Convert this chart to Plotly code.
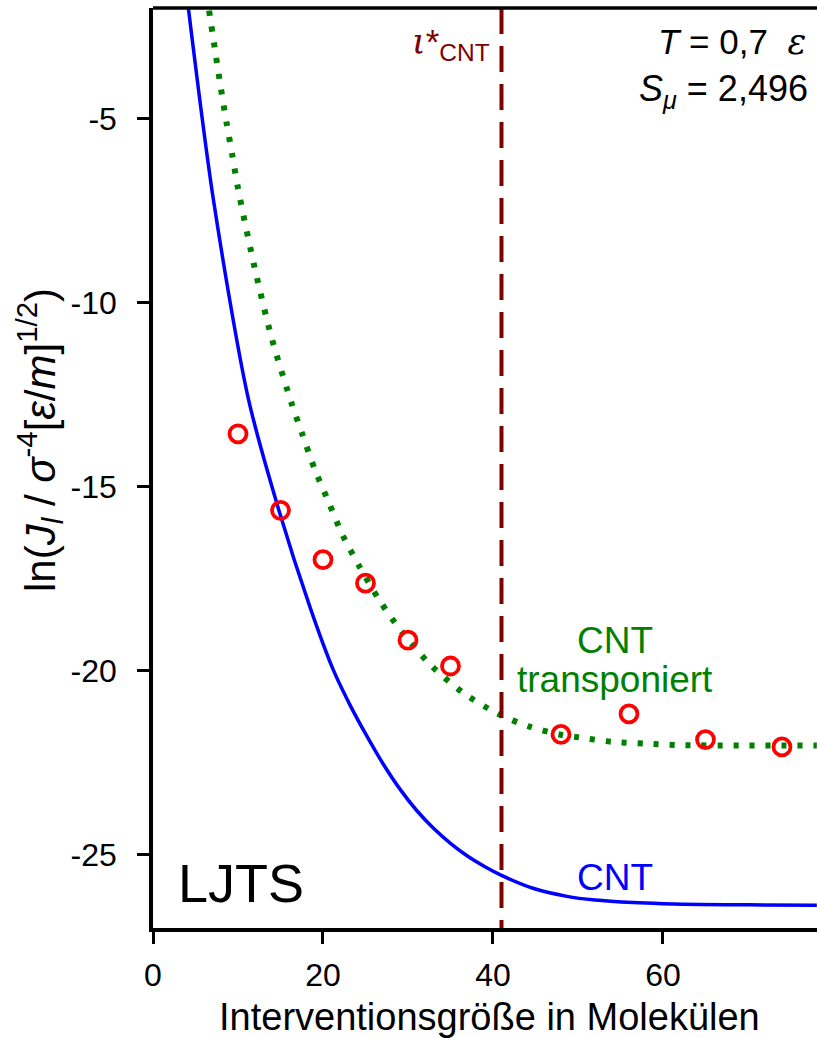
import plotly.graph_objects as go

# ---- data ----
cnt_x = [4.16, 7.1, 11.2, 14.8, 18.5, 21.2, 23.2, 25.1, 27.1, 29.1, 31.0, 33.0, 35.0, 36.9, 39.0, 41.0, 44.7,
         48.7, 52.0, 56.5, 60.0, 64.4, 70.0, 78.1]
cnt_y = [-2.0, -7.2, -12.6, -15.64, -18.3, -19.98, -20.95, -21.76, -22.55, -23.24, -23.8, -24.29, -24.7, -25.03,
         -25.33, -25.57, -25.92, -26.14, -26.24, -26.31, -26.34, -26.36, -26.37, -26.38]

trans_x = [6.6, 7.4, 8.0, 8.67, 9.33, 10.0, 12.0, 14.0, 16.3, 17.6, 19.0, 20.6, 22.3, 24.3, 26.6, 29.3,
           32.7, 36.5, 40.5, 44.3, 48.0, 50.1, 54.0, 57.9, 61.8, 69.4, 78.1]
trans_y = [-2.07, -3.3, -4.2, -5.14, -6.0, -6.9, -9.1, -11.0, -12.74, -13.6, -14.52, -15.39, -16.32, -17.18,
           -18.08, -18.96, -19.86, -20.61, -21.17, -21.53, -21.75, -21.82, -21.94, -21.99, -22.03, -22.04, -22.04]

sim_x = [10, 15, 20, 25, 30, 35, 48, 56, 65, 74]
sim_y = [-13.57, -15.65, -16.99, -17.63, -19.18, -19.88, -21.74, -21.18, -21.88, -22.08]

t_star = 41.0

x_ticks = [0, 20, 40, 60]
y_ticks = [-25, -20, -15, -10, -5]
x_range = [0, 78.12]
y_range = [-27, -2]

FONT = "Liberation Sans, Arial, sans-serif"
SERIF = "font-family:'DejaVu Serif'"

# plot area in pixels
L, R, T, B = 153, 817, 8, 928
W, H = 817, 1038


def px(xp):
    return (xp - L) / (R - L)


def py(yp):
    return (B - yp) / (B - T)


fig = go.Figure()

fig.add_trace(go.Scatter(x=cnt_x, y=cnt_y, mode="lines",
                         line=dict(color="#0000FF", width=3.5, shape="spline", smoothing=0.8),
                         showlegend=False, hoverinfo="skip"))
fig.add_trace(go.Scatter(x=trans_x, y=trans_y, mode="lines",
                         line=dict(color="#008000", width=6, dash="5px,11px", shape="spline", smoothing=0.8),
                         showlegend=False, hoverinfo="skip"))
fig.add_trace(go.Scatter(x=sim_x, y=sim_y, mode="markers",
                         marker=dict(symbol="circle-open", size=17, color="#FF0000",
                                     line=dict(width=3.8, color="#FF0000")),
                         showlegend=False, hoverinfo="skip"))
fig.add_trace(go.Scatter(x=[t_star, t_star], y=[y_range[1], y_range[0]], mode="lines",
                         line=dict(color="#800000", width=4, dash="26px,12px"),
                         showlegend=False, hoverinfo="skip"))

annotations = [
    dict(text="LJTS", x=px(176), y=py(883), xanchor="left", yanchor="middle", font=dict(size=54, color="black")),
    dict(text="CNT", x=px(615), y=py(877), xanchor="center", yanchor="middle", font=dict(size=37, color="#0000FF")),
    dict(text="CNT", x=px(615), y=py(640), xanchor="center", yanchor="middle", font=dict(size=37, color="#008000")),
    dict(text="transponiert", x=px(615), y=py(679), xanchor="center", yanchor="middle",
         font=dict(size=37, color="#008000")),
    dict(text=f"<i>T</i> = 0,7  <span style=\"{SERIF}\"><i>ε</i></span>", x=px(808), y=py(42),
         xanchor="right", yanchor="middle", font=dict(size=35, color="black")),
    dict(text="<i>S</i><sub><i>μ</i></sub> = 2,496", x=px(810), y=py(91), xanchor="right", yanchor="middle",
         font=dict(size=36, color="black")),
    dict(text=f"<span style=\"{SERIF}\"><i>ι</i></span>*<sub>CNT</sub>", x=px(410), y=py(44),
         xanchor="left", yanchor="middle", font=dict(size=35, color="#800000")),
    dict(text="Interventionsgröße in Molekülen", x=px(489), y=py(1017), xanchor="center", yanchor="middle",
         font=dict(size=38, color="black")),
    dict(text="ln(<i>J</i><sub><i>l</i></sub> / <i>σ</i><sup>-4</sup>[<i>ε</i>/<i>m</i>]<sup>1/2</sup>)",
         x=px(40), y=py(440), xanchor="center", yanchor="middle", textangle=-90,
         font=dict(size=42, color="black")),
]
for a in annotations:
    a.update(xref="paper", yref="paper", showarrow=False)

fig.update_layout(
    width=W, height=H,
    margin=dict(l=L, r=W - R, t=T, b=H - B, pad=0),
    paper_bgcolor="white", plot_bgcolor="white",
    font=dict(family=FONT, size=32, color="black"),
    annotations=annotations,
    shapes=[dict(type="line", xref="paper", yref="paper", x0=0, x1=1.01, y0=1, y1=1,
                 line=dict(color="black", width=3.5))],
    xaxis=dict(range=x_range, tickvals=x_ticks, ticktext=[str(v) for v in x_ticks], showgrid=False, zeroline=False,
               showline=True, linecolor="black", linewidth=3.5, ticks="outside", ticklen=12, tickwidth=3,
               tickcolor="black", tickfont=dict(size=32), ticklabelstandoff=4),
    yaxis=dict(range=y_range, tickvals=y_ticks, ticktext=[str(v) for v in y_ticks], showgrid=False, zeroline=False,
               showline=True, linecolor="black", linewidth=3.5, ticks="outside", ticklen=12, tickwidth=3,
               tickcolor="black", tickfont=dict(size=32), ticklabelstandoff=14),
)

fig.write_html("out.html")
